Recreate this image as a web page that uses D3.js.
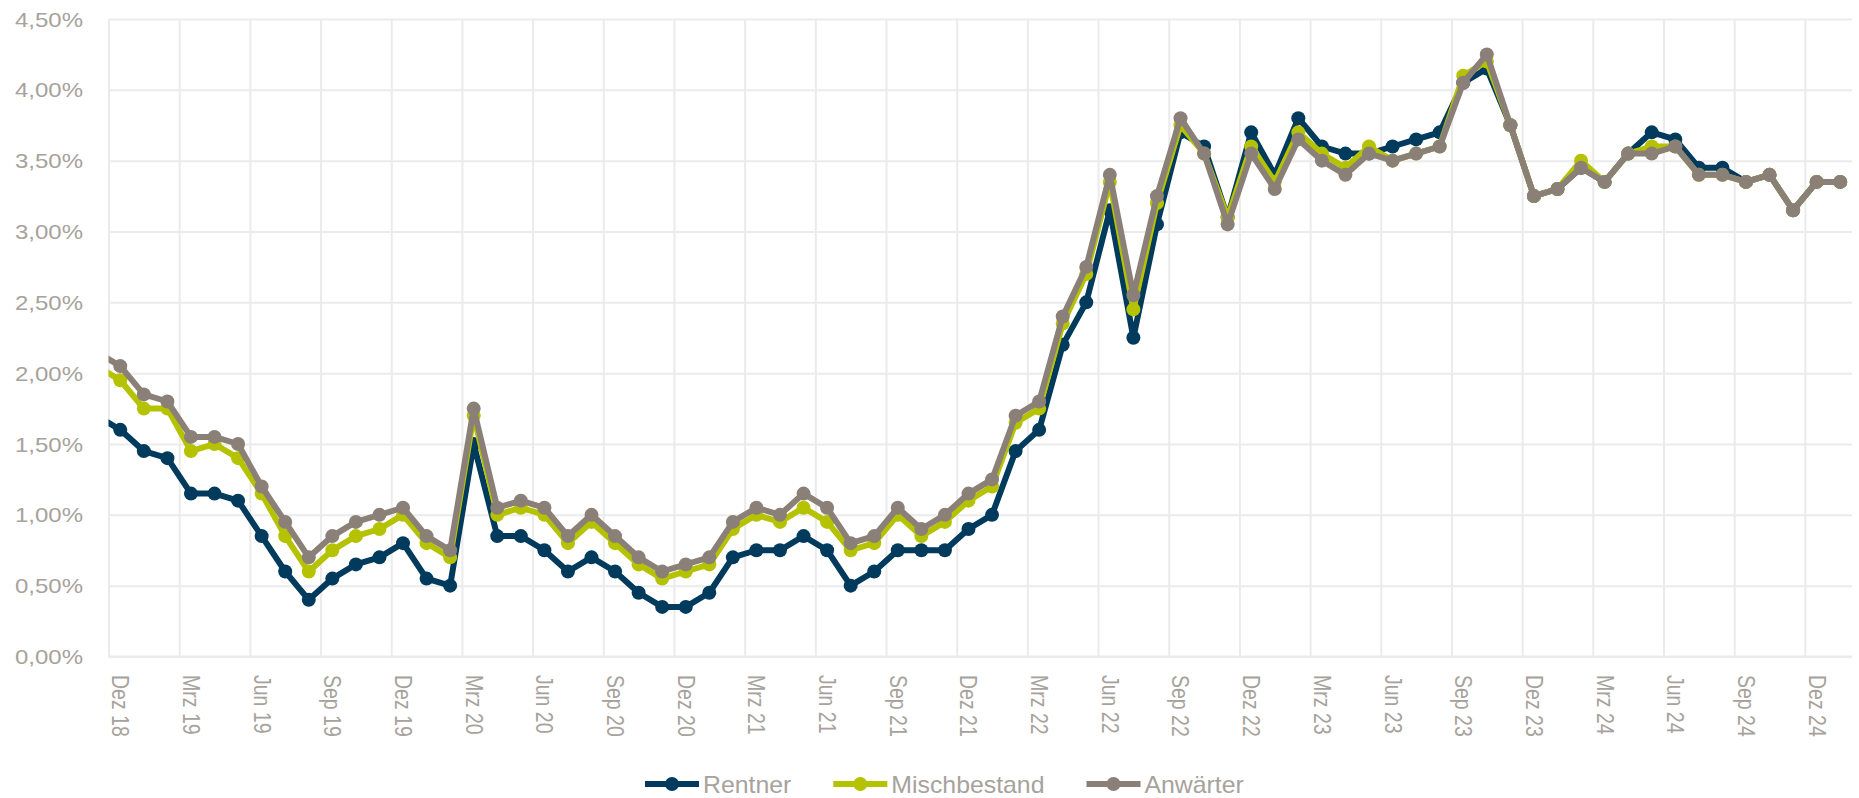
<!DOCTYPE html>
<html>
<head>
<meta charset="utf-8">
<script src="https://cdn.jsdelivr.net/npm/d3@7"></script>
<style>
  html, body { margin: 0; padding: 0; background: #fff; }
  svg { display: block; font-family: "Liberation Sans", Arial, sans-serif; }
</style>
</head>
<body>
<svg id="chart" width="1859" height="798"></svg>
<script>
// months, first one (Nov 18) lies left of the axis and is clipped
var categories = ["Nov 18","Dez 18",
  "Jan 19","Feb 19","Mrz 19","Apr 19","Mai 19","Jun 19","Jul 19","Aug 19","Sep 19","Okt 19","Nov 19","Dez 19",
  "Jan 20","Feb 20","Mrz 20","Apr 20","Mai 20","Jun 20","Jul 20","Aug 20","Sep 20","Okt 20","Nov 20","Dez 20",
  "Jan 21","Feb 21","Mrz 21","Apr 21","Mai 21","Jun 21","Jul 21","Aug 21","Sep 21","Okt 21","Nov 21","Dez 21",
  "Jan 22","Feb 22","Mrz 22","Apr 22","Mai 22","Jun 22","Jul 22","Aug 22","Sep 22","Okt 22","Nov 22","Dez 22",
  "Jan 23","Feb 23","Mrz 23","Apr 23","Mai 23","Jun 23","Jul 23","Aug 23","Sep 23","Okt 23","Nov 23","Dez 23",
  "Jan 24","Feb 24","Mrz 24","Apr 24","Mai 24","Jun 24","Jul 24","Aug 24","Sep 24","Okt 24","Nov 24","Dez 24",
  "Jan 25"];

var xTickLabels = ["Dez 18","Mrz 19","Jun 19","Sep 19","Dez 19","Mrz 20","Jun 20","Sep 20","Dez 20",
  "Mrz 21","Jun 21","Sep 21","Dez 21","Mrz 22","Jun 22","Sep 22","Dez 22","Mrz 23","Jun 23","Sep 23",
  "Dez 23","Mrz 24","Jun 24","Sep 24","Dez 24"];

var yTicks = [0, 0.5, 1, 1.5, 2, 2.5, 3, 3.5, 4, 4.5];

var rentner = [1.70,1.60,
  1.45,1.40,1.15,1.15,1.10,0.85,0.60,0.40,0.55,0.65,0.70,0.80,
  0.55,0.50,1.50,0.85,0.85,0.75,0.60,0.70,0.60,0.45,0.35,0.35,
  0.45,0.70,0.75,0.75,0.85,0.75,0.50,0.60,0.75,0.75,0.75,0.90,
  1.00,1.45,1.60,2.20,2.50,3.15,2.25,3.05,3.70,3.60,3.10,3.70,
  3.40,3.80,3.60,3.55,3.55,3.60,3.65,3.70,4.05,4.15,3.75,3.25,
  3.30,3.45,3.35,3.55,3.70,3.65,3.45,3.45,3.35,3.40,3.15,3.35,
  3.35];

var mischbestand = [2.05,1.95,
  1.75,1.75,1.45,1.50,1.40,1.15,0.85,0.60,0.75,0.85,0.90,1.00,
  0.80,0.70,1.70,1.00,1.05,1.00,0.80,0.95,0.80,0.65,0.55,0.60,
  0.65,0.90,1.00,0.95,1.05,0.95,0.75,0.80,1.00,0.85,0.95,1.10,
  1.20,1.65,1.75,2.35,2.70,3.35,2.45,3.20,3.75,3.55,3.10,3.60,
  3.35,3.70,3.55,3.45,3.60,3.50,3.55,3.60,4.10,4.20,3.75,3.25,
  3.30,3.50,3.35,3.55,3.60,3.60,3.40,3.40,3.35,3.40,3.15,3.35,
  3.35];

var anwaerter = [2.15,2.05,
  1.85,1.80,1.55,1.55,1.50,1.20,0.95,0.70,0.85,0.95,1.00,1.05,
  0.85,0.75,1.75,1.05,1.10,1.05,0.85,1.00,0.85,0.70,0.60,0.65,
  0.70,0.95,1.05,1.00,1.15,1.05,0.80,0.85,1.05,0.90,1.00,1.15,
  1.25,1.70,1.80,2.40,2.75,3.40,2.55,3.25,3.80,3.55,3.05,3.55,
  3.30,3.65,3.50,3.40,3.55,3.50,3.55,3.60,4.05,4.25,3.75,3.25,
  3.30,3.45,3.35,3.55,3.55,3.60,3.40,3.40,3.35,3.40,3.15,3.35,
  3.35];

var series = [
  { name: "Rentner", color: "#003a5d", values: rentner },
  { name: "Mischbestand", color: "#b5c200", values: mischbestand },
  { name: "Anwärter", color: "#8b8077", values: anwaerter }
];

(function() {
  var svg = d3.select("#chart"),
      pLeft = 108.5, pRight = 1852, pTop = 19, pBottom = 656.5,
      textColor = "#a7a29c", gridColor = "#ebebeb";

  // index 0 = Dez 18, 74 months fit the plot
  var x = d3.scaleLinear().domain([0, 74]).range([pLeft, pRight]);
  var y = d3.scaleLinear().domain([0, 4.5]).range([pBottom, pTop]);
  var pct = function(d) { return d3.format(".2f")(d).replace(".", ",") + "%"; };

  svg.append("clipPath").attr("id", "plot")
    .append("rect").attr("x", pLeft).attr("y", 0).attr("width", pRight - pLeft).attr("height", 798);

  // horizontal grid + y labels
  var yAxis = svg.append("g")
      .attr("transform", "translate(" + pLeft + ",0)")
      .call(d3.axisLeft(y).tickValues(yTicks).tickSize(-(pRight - pLeft)).tickFormat(pct));
  yAxis.select(".domain").remove();
  yAxis.selectAll("line").attr("stroke", gridColor).attr("stroke-width", 2);
  yAxis.selectAll("text")
      .attr("x", 0).attr("dy", "0.35em")
      .attr("transform", "translate(-25.5,0) scale(1.2,1)")
      .attr("fill", textColor).style("font-size", "20px")
      .attr("font-family", "Liberation Sans, Arial, sans-serif");

  // vertical grid every 3 months (between categories)
  var xGrid = svg.append("g")
      .attr("transform", "translate(0," + pBottom + ")")
      .call(d3.axisBottom(x).tickValues(d3.range(0, 73, 3)).tickSize(-(pBottom - pTop)).tickFormat(""));
  xGrid.select(".domain").remove();
  xGrid.selectAll("line").attr("stroke", gridColor).attr("stroke-width", 2);

  // bottom axis line
  svg.append("line")
      .attr("x1", pLeft).attr("x2", pRight).attr("y1", y(0)).attr("y2", y(0))
      .attr("stroke", gridColor).attr("stroke-width", 2);

  // x labels centred on the category
  var xAxis = svg.append("g")
      .attr("transform", "translate(0," + pBottom + ")")
      .call(d3.axisBottom(x).tickValues(d3.range(0.5, 73, 3)).tickSize(0)
        .tickFormat(function(d, i) { return xTickLabels[i]; }));
  xAxis.select(".domain").remove();
  xAxis.selectAll("text")
      .attr("x", 0).attr("y", 0).attr("dy", "0.35em")
      .attr("text-anchor", "start")
      .attr("transform", "translate(0,18.5) scale(1.25,1) rotate(90)")
      .attr("fill", textColor).style("font-size", "19.5px")
      .attr("font-family", "Liberation Sans, Arial, sans-serif");

  // lines
  var line = d3.line()
      .x(function(d, i) { return x(i - 0.5); })
      .y(function(d) { return y(d); });

  var plot = svg.append("g").attr("clip-path", "url(#plot)");

  series.forEach(function(s) {
    var g = plot.append("g");
    g.append("path")
        .datum(s.values)
        .attr("d", line)
        .attr("fill", "none")
        .attr("stroke", s.color)
        .attr("stroke-width", 6)
        .attr("stroke-linejoin", "round");
    g.selectAll("circle")
        .data(s.values)
        .enter().append("circle")
        .attr("cx", function(d, i) { return x(i - 0.5); })
        .attr("cy", function(d) { return y(d); })
        .attr("r", 7)
        .attr("fill", s.color);
  });

  // legend
  var legend = svg.append("g");
  var items = legend.selectAll("g").data(series).enter().append("g");
  items.append("line")
      .attr("x1", 0).attr("x2", 54).attr("y1", 784).attr("y2", 784)
      .attr("stroke", function(d) { return d.color; })
      .attr("stroke-width", 6);
  items.append("circle")
      .attr("cx", 27).attr("cy", 784).attr("r", 7)
      .attr("fill", function(d) { return d.color; });
  items.append("text")
      .attr("transform", "translate(58,792.5) scale(1.08,1)")
      .attr("fill", textColor).style("font-size", "23px")
      .text(function(d) { return d.name; });

  var pos = 645, gap = 42;
  items.each(function() {
    d3.select(this).attr("transform", "translate(" + pos + ",0)");
    pos += 58 + this.querySelector("text").getComputedTextLength() * 1.08 + gap;
  });
})();
</script>
</body>
</html>
